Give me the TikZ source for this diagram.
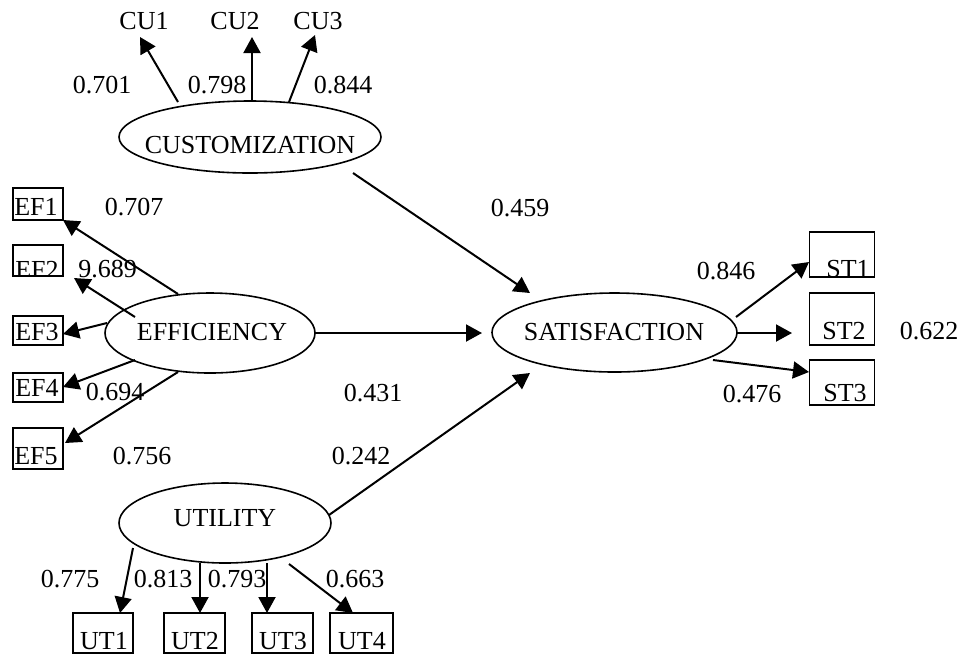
\documentclass[tikz,border=0pt]{standalone}
\usepackage{fontspec}
\setmainfont{Liberation Serif}
\usetikzlibrary{arrows.meta,shapes.geometric}
\tikzset{
  lbl/.style={inner sep=0pt, anchor=center, font=\fontsize{13}{15}\selectfont},
  latent/.style={draw, ellipse, line width=0.8pt, inner sep=0pt},
  obsbox/.style={draw, line width=0.9pt, inner sep=0pt, anchor=center},
  arr/.style={line width=1pt, -{Triangle[length=8pt,width=8.5pt]}},
}
\begin{document}
\begin{tikzpicture}[x=0.5pt,y=-0.5pt]
\path[use as bounding box] (0,0) rectangle (963,655);

% ---------- latent ellipses (sizes in pt = px/2) ----------
\node[latent, minimum width=131pt, minimum height=36pt] (cu) at (250,137) {};
\node[latent, minimum width=105pt, minimum height=40pt] (ef) at (210,333) {};
\node[latent, minimum width=122.5pt, minimum height=39.5pt] (sat) at (614.5,332.5) {};
\node[latent, minimum width=106pt, minimum height=40pt] (ut) at (225,523) {};
\node[lbl] (cut) at (250,145) {CUSTOMIZATION};
\node[lbl] (eft) at (212,332) {EFFICIENCY};
\node[lbl] (satt) at (614,332) {SATISFACTION};
\node[lbl] (utt) at (225,518) {UTILITY};

% ---------- customization indicators ----------
\node[lbl] (cu1) at (144,21.5) {CU1};
\node[lbl] (cu2) at (235,21.5) {CU2};
\node[lbl] (cu3) at (318,21.5) {CU3};

% ---------- efficiency indicators ----------
\node[obsbox, minimum width=25pt, minimum height=16pt] (ef1) at (38,204) {};
\node[obsbox, minimum width=25pt, minimum height=15.5pt] (ef2) at (38,260.5) {};
\node[obsbox, minimum width=25pt, minimum height=14.5pt] (ef3) at (38,330.5) {};
\node[obsbox, minimum width=25pt, minimum height=14.5pt] (ef4) at (38,387.5) {};
\node[obsbox, minimum width=25pt, minimum height=20.5pt] (ef5) at (38,448.5) {};
\node[lbl] (ef1t) at (36,207) {EF1};
\begin{scope}
  \clip (13,245) rectangle (63,276);
  \node[lbl] (ef2t) at (37,270) {EF2};
\end{scope}
\node[lbl] (ef3t) at (37,332) {EF3};
\node[lbl] (ef4t) at (37,387.5) {EF4};
\node[lbl] (ef5t) at (36,456) {EF5};

% ---------- satisfaction indicators ----------
\node[obsbox, minimum width=32.5pt, minimum height=22.5pt] (st1) at (842,254.5) {};
\node[obsbox, minimum width=32.5pt, minimum height=26pt] (st2) at (842,319) {};
\node[obsbox, minimum width=32.5pt, minimum height=22.5pt] (st3) at (842,382.5) {};
\begin{scope}
  \clip (809.5,232) rectangle (874.5,277);
  \node[lbl] (st1t) at (848,269) {ST1};
\end{scope}
\node[lbl] (st2t) at (844,331) {ST2};
\node[lbl] (st3t) at (845,393) {ST3};

% ---------- utility indicators ----------
\node[obsbox, minimum width=30pt, minimum height=20pt] (ut1) at (103,633) {};
\node[obsbox, minimum width=30.5pt, minimum height=20pt] (ut2) at (194.5,633) {};
\node[obsbox, minimum width=30.5pt, minimum height=20pt] (ut3) at (282.5,633) {};
\node[obsbox, minimum width=31.5pt, minimum height=20pt] (ut4) at (361.5,633) {};
\node[lbl] (ut1t) at (104,641) {UT1};
\node[lbl] (ut2t) at (195,641) {UT2};
\node[lbl] (ut3t) at (283,641) {UT3};
\node[lbl] (ut4t) at (362,641) {UT4};

% ---------- connector end points ----------
\coordinate (cu1s) at (178,102);  \coordinate (cu1e) at (140,37);
\coordinate (cu2s) at (252,101);  \coordinate (cu2e) at (252,37);
\coordinate (cu3s) at (289,102);  \coordinate (cu3e) at (315,35);
\coordinate (cuss) at (353,173);  \coordinate (cuse) at (530,293);
\coordinate (ef1s) at (178,294);  \coordinate (ef1e) at (63,220);
\coordinate (ef2s) at (135,317);  \coordinate (ef2e) at (74,278);
\coordinate (ef3s) at (107,323);  \coordinate (ef3e) at (63,334);
\coordinate (ef4s) at (135,360);  \coordinate (ef4e) at (63,387);
\coordinate (ef5s) at (178,372);  \coordinate (ef5e) at (65,443);
\coordinate (efss) at (315,333);  \coordinate (efse) at (482,333);
\coordinate (utss) at (329,515);  \coordinate (utse) at (530,373);
\coordinate (st1s) at (736,317);  \coordinate (st1e) at (809,262);
\coordinate (st2s) at (737,333);  \coordinate (st2e) at (792,333);
\coordinate (st3s) at (713,360);  \coordinate (st3e) at (809,372);
\coordinate (ut1s) at (133,548);  \coordinate (ut1e) at (120,613);
\coordinate (ut2s) at (200,563);  \coordinate (ut2e) at (200,613);
\coordinate (ut3s) at (267,563);  \coordinate (ut3e) at (267,613);
\coordinate (ut4s) at (289,564);  \coordinate (ut4e) at (353,613);

% ---------- connectors ----------
\draw[arr] (cu1s) -- (cu1e);
\draw[arr] (cu2s) -- (cu2e);
\draw[arr] (cu3s) -- (cu3e);
\draw[arr] (cuss) -- (cuse);
\draw[arr] (ef1s) -- (ef1e);
\draw[arr] (ef2s) -- (ef2e);
\draw[arr] (ef3s) -- (ef3e);
\draw[arr] (ef4s) -- (ef4e);
\draw[arr] (ef5s) -- (ef5e);
\draw[arr] (efss) -- (efse);
\draw[arr] (utss) -- (utse);
\draw[arr] (st1s) -- (st1e);
\draw[arr] (st2s) -- (st2e);
\draw[arr] (st3s) -- (st3e);
\draw[arr] (ut1s) -- (ut1e);
\draw[arr] (ut2s) -- (ut2e);
\draw[arr] (ut3s) -- (ut3e);
\draw[arr] (ut4s) -- (ut4e);

% ---------- coefficient labels ----------
\node[lbl] (l701) at (102,85) {0.701};
\node[lbl] (l798) at (217,85) {0.798};
\node[lbl] (l844) at (343,85) {0.844};
\node[lbl] (l707) at (134,207) {0.707};
\node[lbl] (l689) at (107.5,269) {9.689};
\node[lbl] (l694) at (115,392) {0.694};
\node[lbl] (l756) at (142,456) {0.756};
\node[lbl] (l459) at (520,208) {0.459};
\node[lbl] (l431) at (373,393) {0.431};
\node[lbl] (l242) at (361,456) {0.242};
\node[lbl] (l846) at (726,271) {0.846};
\node[lbl] (l622) at (929,331) {0.622};
\node[lbl] (l476) at (752,394) {0.476};
\node[lbl] (l775) at (70,579) {0.775};
\node[lbl] (l813) at (163,579) {0.813};
\node[lbl] (l793) at (237,579) {0.793};
\node[lbl] (l663) at (355,579) {0.663};
\end{tikzpicture}
\end{document}
